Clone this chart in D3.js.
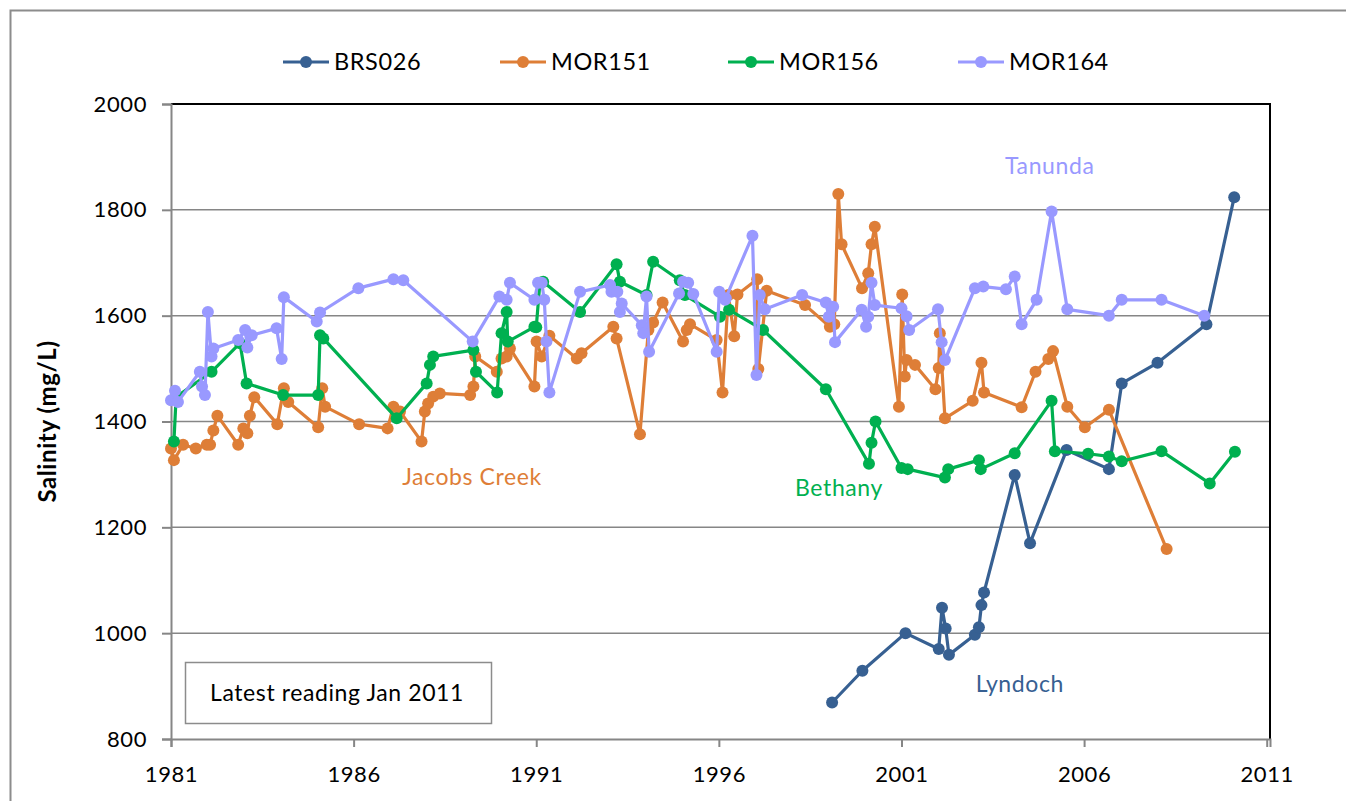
<!DOCTYPE html>
<html lang="en">
<head>
<meta charset="UTF-8">
<title>Salinity (mg/L)</title>
<script src="https://d3js.org/d3.v7.min.js"></script>
<style>
  body { margin: 0; background: #fff; }
  svg text { font-family: Lato, "Open Sans", sans-serif; fill: #000; letter-spacing: 0.6px; }
</style>
</head>
<body>
<div id="chart"></div>
<script>
// series: [decimal year, salinity mg/L]
const brs026 = [
  [1999.10, 869], [1999.93, 929], [2001.11, 1000], [2002.02, 970], [2002.11, 1048],
  [2002.21, 1009], [2002.30, 959], [2003.01, 997], [2003.12, 1011], [2003.19, 1053],
  [2003.26, 1077], [2004.10, 1299], [2004.52, 1170], [2005.52, 1346], [2006.68, 1310],
  [2007.03, 1472], [2008.01, 1511], [2009.35, 1584], [2010.11, 1824]
];
const mor151 = [
  [1981.00, 1349], [1981.08, 1327], [1981.33, 1356], [1981.68, 1349], [1981.98, 1356],
  [1982.07, 1356], [1982.16, 1383], [1982.27, 1411], [1982.84, 1356], [1982.98, 1387],
  [1983.09, 1378], [1983.16, 1411], [1983.28, 1446], [1983.91, 1395], [1984.09, 1463],
  [1984.21, 1437], [1985.03, 1389], [1985.14, 1463], [1985.22, 1428], [1986.15, 1395],
  [1986.93, 1387], [1987.09, 1428], [1987.27, 1419], [1987.86, 1362], [1987.95, 1419],
  [1988.04, 1434], [1988.18, 1447], [1988.36, 1453], [1989.19, 1450], [1989.28, 1466],
  [1989.33, 1523], [1989.92, 1494], [1990.05, 1519], [1990.19, 1523], [1990.28, 1538],
  [1990.95, 1466], [1991.01, 1551], [1991.15, 1523], [1991.36, 1562], [1992.11, 1519],
  [1992.24, 1529], [1993.11, 1579], [1993.20, 1557], [1993.84, 1376], [1994.07, 1573],
  [1994.20, 1587], [1994.46, 1625], [1995.02, 1551], [1995.12, 1573], [1995.21, 1584],
  [1995.94, 1554], [1996.10, 1455], [1996.26, 1639], [1996.42, 1561], [1996.51, 1640],
  [1997.05, 1669], [1997.08, 1499], [1997.31, 1647], [1998.36, 1620], [1999.04, 1579],
  [1999.16, 1584], [1999.27, 1830], [1999.36, 1735], [1999.92, 1652], [2000.09, 1680],
  [2000.18, 1735], [2000.27, 1768], [2000.93, 1428], [2001.02, 1640], [2001.09, 1485],
  [2001.14, 1516], [2001.37, 1507], [2001.93, 1461], [2002.02, 1501], [2002.05, 1567],
  [2002.19, 1406], [2002.95, 1439], [2003.19, 1511], [2003.26, 1455], [2004.29, 1427],
  [2004.67, 1494], [2005.02, 1518], [2005.15, 1533], [2005.54, 1428], [2006.02, 1389],
  [2006.68, 1422], [2008.26, 1159]
];
const mor156 = [
  [1981.08, 1362], [1981.14, 1446], [1982.11, 1494], [1982.89, 1548], [1983.07, 1472],
  [1984.07, 1450], [1985.03, 1450], [1985.08, 1563], [1985.17, 1557], [1987.18, 1406],
  [1988.00, 1472], [1988.09, 1507], [1988.18, 1523], [1989.28, 1535], [1989.35, 1494],
  [1989.93, 1455], [1990.05, 1567], [1990.19, 1607], [1990.22, 1551], [1990.95, 1579],
  [1991.00, 1578], [1991.10, 1662], [1991.19, 1664], [1992.20, 1607], [1993.20, 1697],
  [1993.29, 1664], [1994.02, 1639], [1994.20, 1702], [1994.93, 1667], [1995.07, 1639],
  [1996.03, 1598], [1996.28, 1611], [1997.21, 1573], [1998.93, 1461], [2000.11, 1320],
  [2000.18, 1360], [2000.29, 1400], [2001.00, 1312], [2001.17, 1310], [2002.19, 1294],
  [2002.28, 1310], [2003.12, 1327], [2003.17, 1310], [2004.10, 1340], [2005.11, 1439],
  [2005.20, 1344], [2006.11, 1339], [2006.68, 1334], [2007.03, 1325], [2008.12, 1344],
  [2009.44, 1283], [2010.13, 1343]
];
const mor164 = [
  [1981.00, 1440], [1981.11, 1458], [1981.19, 1437], [1981.79, 1494], [1981.85, 1466],
  [1981.93, 1450], [1982.01, 1607], [1982.11, 1523], [1982.16, 1538], [1982.84, 1554],
  [1983.03, 1573], [1983.09, 1540], [1983.21, 1563], [1983.89, 1576], [1984.03, 1518],
  [1984.09, 1635], [1984.99, 1589], [1985.08, 1606], [1986.13, 1652], [1987.09, 1669],
  [1987.36, 1667], [1989.26, 1551], [1989.99, 1636], [1990.19, 1630], [1990.28, 1662],
  [1990.95, 1630], [1991.05, 1662], [1991.15, 1662], [1991.22, 1630], [1991.28, 1551],
  [1991.36, 1455], [1992.20, 1645], [1993.02, 1658], [1993.06, 1645], [1993.22, 1645],
  [1993.29, 1607], [1993.34, 1623], [1993.89, 1582], [1993.93, 1567], [1994.02, 1636],
  [1994.09, 1532], [1994.91, 1642], [1995.02, 1664], [1995.16, 1662], [1995.30, 1641],
  [1995.94, 1532], [1996.01, 1645], [1996.17, 1630], [1996.19, 1633], [1996.92, 1751],
  [1997.03, 1488], [1997.12, 1639], [1997.26, 1612], [1998.28, 1639], [1998.93, 1625],
  [1999.01, 1598], [1999.13, 1617], [1999.18, 1550], [1999.91, 1611], [2000.03, 1579],
  [2000.09, 1598], [2000.18, 1662], [2000.27, 1620], [2001.00, 1614], [2001.14, 1599],
  [2001.21, 1573], [2002.00, 1612], [2002.10, 1550], [2002.19, 1516], [2003.01, 1652],
  [2003.24, 1655], [2003.86, 1650], [2004.10, 1674], [2004.29, 1584], [2004.70, 1630],
  [2005.11, 1797], [2005.54, 1612], [2006.68, 1600], [2007.03, 1630], [2008.12, 1630],
  [2009.29, 1600]
];

const seriesNames = ["BRS026", "MOR151", "MOR156", "MOR164"];
const seriesData = [brs026, mor151, mor156, mor164];
const colors = ["#376092", "#DE7E37", "#00B050", "#9999FF"];

const xTicks = [1981, 1986, 1991, 1996, 2001, 2006, 2011];
const yTicks = [800, 1000, 1200, 1400, 1600, 1800, 2000];

// site labels, placed at data coordinates
const siteLabels = [
  { text: "Tanunda", x: 2005.06, y: 1883, color: "#9999FF" },
  { text: "Jacobs Creek", x: 1989.24, y: 1295, color: "#DE7E37" },
  { text: "Bethany", x: 1999.29, y: 1274, color: "#00B050" },
  { text: "Lyndoch", x: 2004.24, y: 904, color: "#376092" }
];

const W = 1346, H = 801;
const plot = { left: 171, top: 104, right: 1270, bottom: 739 };

const svg = d3.select("#chart").append("svg")
  .attr("width", W).attr("height", H);

// outer chart frame
svg.append("rect")
  .attr("x", 10.5).attr("y", 10.5)
  .attr("width", W).attr("height", H)
  .attr("fill", "none").attr("stroke", "#8c8c8c").attr("stroke-width", 2);

const x = d3.scaleLinear().domain([1981, 2011.09]).range([plot.left, plot.right]);
const y = d3.scaleLinear().domain([800, 2000]).range([plot.bottom, plot.top]);

// gridlines
svg.append("g").selectAll("line").data(yTicks.filter(d => d > 800 && d < 2000)).join("line")
  .attr("x1", plot.left).attr("x2", plot.right)
  .attr("y1", d => y(d)).attr("y2", d => y(d))
  .attr("stroke", "#868686").attr("stroke-width", 1.5);

// plot area top/right border
svg.append("path")
  .attr("d", `M${plot.left},${plot.top}H${plot.right}V${plot.bottom}`)
  .attr("fill", "none").attr("stroke", "#000").attr("stroke-width", 2);

// axes
const yAxis = svg.append("g")
  .attr("transform", `translate(${plot.left},0)`)
  .call(d3.axisLeft(y).tickValues(yTicks).tickFormat(d3.format("d")).tickSize(9).tickPadding(15));
const xAxis = svg.append("g")
  .attr("transform", `translate(0,${plot.bottom})`)
  .call(d3.axisBottom(x).tickValues(xTicks).tickFormat(d3.format("d")).tickSize(8).tickPadding(19));

[xAxis, yAxis].forEach(ax => {
  ax.select(".domain").attr("stroke", "#868686").attr("stroke-width", 2);
  ax.selectAll(".tick line").attr("stroke", "#868686").attr("stroke-width", 2);
  ax.selectAll(".tick text").attr("font-size", 22).attr("fill", "#000");
});

// y title
svg.append("text")
  .attr("transform", `translate(56,${(plot.top + plot.bottom) / 2}) rotate(-90)`)
  .attr("text-anchor", "middle")
  .attr("font-size", 24).attr("font-weight", "bold")
  .text("Salinity (mg/L)");

// series
const line = d3.line().x(d => x(d[0])).y(d => y(d[1]));
seriesData.forEach((data, i) => {
  const g = svg.append("g");
  g.append("path").datum(data)
    .attr("d", line)
    .attr("fill", "none").attr("stroke", colors[i])
    .attr("stroke-width", 3.2).attr("stroke-linejoin", "round");
  g.selectAll("circle").data(data).join("circle")
    .attr("cx", d => x(d[0])).attr("cy", d => y(d[1]))
    .attr("r", 6).attr("fill", colors[i]);
});

// site labels
svg.append("g").selectAll("text").data(siteLabels).join("text")
  .attr("x", d => x(d.x)).attr("y", d => y(d.y))
  .attr("dy", "0.35em")
  .attr("text-anchor", "middle")
  .attr("font-size", 23)
  .style("fill", d => d.color)
  .text(d => d.text);

// legend
const legendX = [283, 500, 728, 958];
const legend = svg.append("g");
seriesNames.forEach((name, i) => {
  const lg = legend.append("g").attr("transform", `translate(${legendX[i]},62)`);
  lg.append("line").attr("x1", 0).attr("x2", 46)
    .attr("stroke", colors[i]).attr("stroke-width", 3.2);
  lg.append("circle").attr("cx", 23).attr("r", 6).attr("fill", colors[i]);
  lg.append("text").attr("x", 51).attr("dy", "0.35em")
    .attr("font-size", 23.5).text(name);
});

// note box
const note = svg.append("g");
note.append("rect")
  .attr("x", 185.5).attr("y", 662.5).attr("width", 306).attr("height", 61)
  .attr("fill", "#fff").attr("stroke", "#8c8c8c").attr("stroke-width", 1.5);
note.append("text")
  .attr("x", 337).attr("y", 693).attr("dy", "0.35em")
  .attr("text-anchor", "middle").attr("font-size", 23)
  .text("Latest reading Jan 2011");
</script>
</body>
</html>
